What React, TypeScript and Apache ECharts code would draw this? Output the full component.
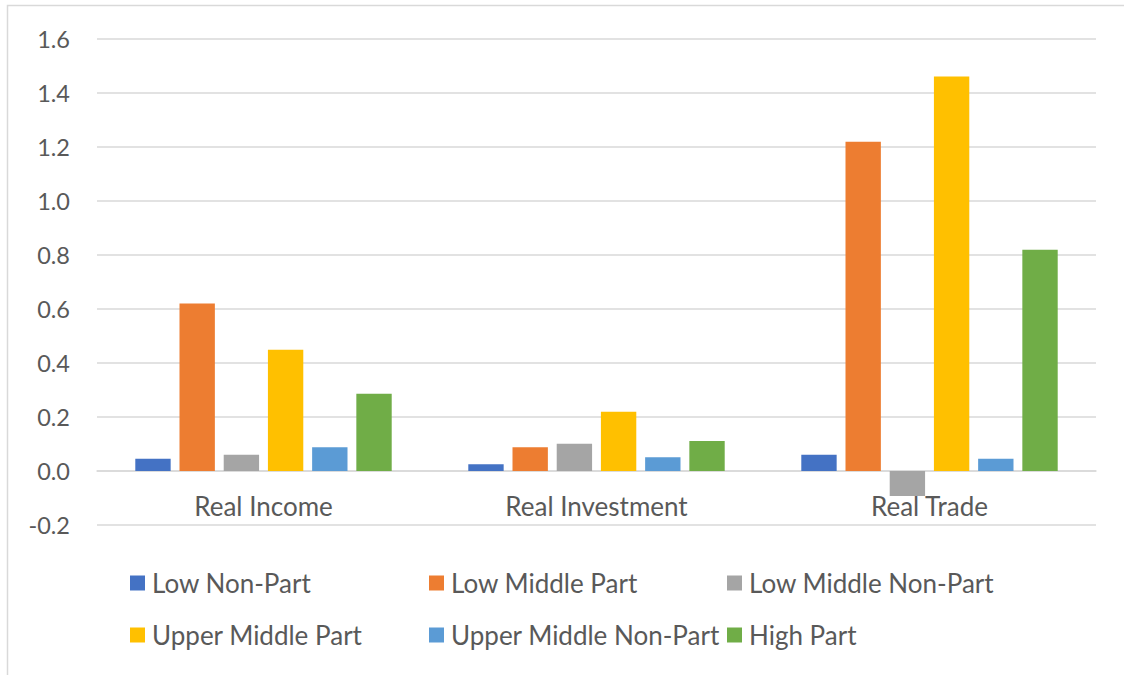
import React, { useEffect, useRef } from "react";
import * as echarts from "echarts";

const categories = ["Real Income", "Real Investment", "Real Trade"];
const seriesNames = [
  "Low Non-Part",
  "Low Middle Part",
  "Low Middle Non-Part",
  "Upper Middle Part",
  "Upper Middle Non-Part",
  "High Part",
];
const lowNonPart = [0.045, 0.025, 0.06];
const lowMiddlePart = [0.62, 0.088, 1.219];
const lowMiddleNonPart = [0.06, 0.101, -0.093];
const upperMiddlePart = [0.449, 0.219, 1.461];
const upperMiddleNonPart = [0.088, 0.051, 0.045];
const highPart = [0.286, 0.111, 0.819];
const seriesValues = [
  lowNonPart,
  lowMiddlePart,
  lowMiddleNonPart,
  upperMiddlePart,
  upperMiddleNonPart,
  highPart,
];
const colors = ["#4472C4", "#ED7D31", "#A5A5A5", "#FFC000", "#5B9BD5", "#70AD47"];

const FONT = "Lato, 'Open Sans', sans-serif";
const TEXT = "#595959";

export default function App() {
  const ref = useRef<HTMLDivElement>(null);
  useEffect(() => {
    document.body.style.margin = "0";
    const chart = echarts.init(ref.current!, undefined, { renderer: "svg" });
    const legendCols = [
      [seriesNames[0], seriesNames[3]],
      [seriesNames[1], seriesNames[4]],
      [seriesNames[2], seriesNames[5]],
    ];
    const lefts = [130, 429, 727];
    chart.setOption({
      animation: false,
      color: colors,
      graphic: [
        {
          type: "rect",
          shape: { x: 7.5, y: 5.5, width: 1300, height: 800 },
          style: { fill: "none", stroke: "#d9d9d9", lineWidth: 1.5 },
          silent: true,
        },
      ],
      grid: { left: 97, right: 28, top: 39, bottom: 150, containLabel: false },
      legend: legendCols.map((names, i) => ({
        data: names,
        orient: "vertical",
        left: lefts[i] - 5,
        top: 565,
        itemWidth: 15,
        itemHeight: 15,
        itemGap: 26,
        icon: "rect",
        textStyle: { color: TEXT, fontSize: 26, fontFamily: FONT, padding: [0, 0, 0, 2] },
      })),
      xAxis: {
        type: "category",
        data: categories,
        axisLine: { onZero: true, lineStyle: { color: "#d9d9d9", width: 1.5 } },
        axisTick: { show: false },
        axisLabel: { color: TEXT, fontSize: 26, fontFamily: FONT, margin: -32 },
      },
      yAxis: {
        type: "value",
        min: -0.2,
        max: 1.6,
        interval: 0.2,
        axisLine: { show: false },
        axisTick: { show: false },
        axisLabel: {
          color: TEXT,
          fontSize: 23.5,
          fontFamily: FONT,
          margin: 27,
          formatter: (v: number) => v.toFixed(1),
        },
        splitLine: { lineStyle: { color: "#d9d9d9", width: 1.5 } },
      },
      series: seriesNames.map((name, i) => ({
        name,
        type: "bar",
        data: seriesValues[i],
        barGap: "25%",
        barCategoryGap: "23%",
        itemStyle: { color: colors[i] },
      })),
    });
    return () => chart.dispose();
  }, []);
  return <div ref={ref} style={{ width: 1124, height: 675 }} />;
}
